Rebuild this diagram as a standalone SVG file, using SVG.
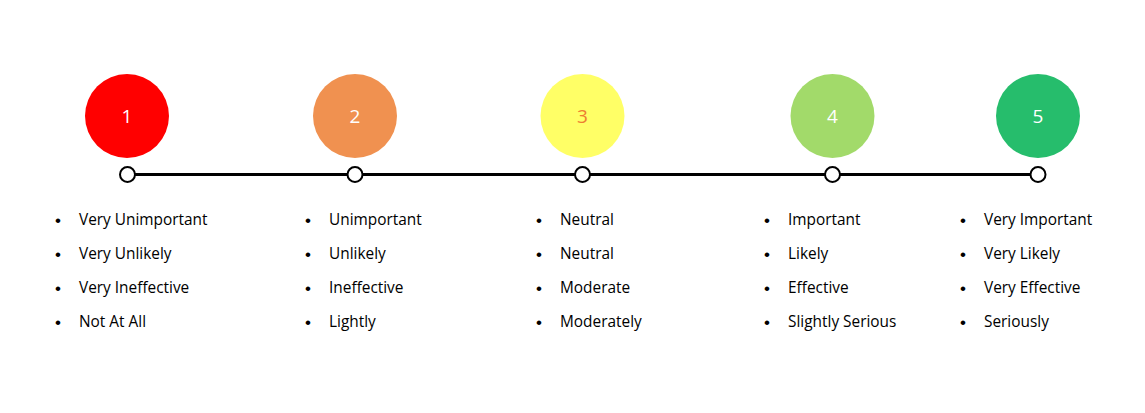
<svg xmlns="http://www.w3.org/2000/svg" width="1145" height="413" viewBox="0 0 1145 413">
<style>
.num{font-family:"Open Sans","Liberation Sans",sans-serif;font-size:19px;fill:#ffffff;text-anchor:middle}
.t{font-family:"Open Sans","Liberation Sans",sans-serif;font-size:15.4px;fill:#000000}
.b{font-family:"Liberation Sans",sans-serif;font-size:17px;fill:#000000}
.dot{fill:#ffffff;stroke:#000000;stroke-width:2}
</style>
<rect width="1145" height="413" fill="#ffffff"/>
<g id="connectors">
<line x1="127" y1="174.5" x2="1038" y2="174.5" stroke="#000000" stroke-width="3"/>
</g>
<g id="node1">
<circle cx="127" cy="116" r="42" fill="#FF0000"/>
<text class="num" x="127" y="123">1</text>
<circle class="dot" cx="127.5" cy="174.5" r="7.5"/>
<text class="b" x="55" y="226">•</text><text class="t" x="79" y="225">Very Unimportant</text>
<text class="b" x="55" y="260">•</text><text class="t" x="79" y="259">Very Unlikely</text>
<text class="b" x="55" y="294">•</text><text class="t" x="79" y="293">Very Ineffective</text>
<text class="b" x="55" y="328">•</text><text class="t" x="79" y="327">Not At All</text>
</g>
<g id="node2">
<circle cx="355" cy="116" r="42" fill="#F09150"/>
<text class="num" x="355" y="123">2</text>
<circle class="dot" cx="355" cy="174.5" r="7.5"/>
<text class="b" x="305" y="226">•</text><text class="t" x="329" y="225">Unimportant</text>
<text class="b" x="305" y="260">•</text><text class="t" x="329" y="259">Unlikely</text>
<text class="b" x="305" y="294">•</text><text class="t" x="329" y="293">Ineffective</text>
<text class="b" x="305" y="328">•</text><text class="t" x="329" y="327">Lightly</text>
</g>
<g id="node3">
<circle cx="582.5" cy="116" r="42" fill="#FFFF66"/>
<text class="num" x="582.5" y="123" style="fill:#ED7D31">3</text>
<circle class="dot" cx="582.5" cy="174.5" r="7.5"/>
<text class="b" x="536" y="226">•</text><text class="t" x="560" y="225">Neutral</text>
<text class="b" x="536" y="260">•</text><text class="t" x="560" y="259">Neutral</text>
<text class="b" x="536" y="294">•</text><text class="t" x="560" y="293">Moderate</text>
<text class="b" x="536" y="328">•</text><text class="t" x="560" y="327">Moderately</text>
</g>
<g id="node4">
<circle cx="832.5" cy="116" r="42" fill="#A2DA6A"/>
<text class="num" x="832.5" y="123">4</text>
<circle class="dot" cx="832.5" cy="174.5" r="7.5"/>
<text class="b" x="764" y="226">•</text><text class="t" x="788" y="225">Important</text>
<text class="b" x="764" y="260">•</text><text class="t" x="788" y="259">Likely</text>
<text class="b" x="764" y="294">•</text><text class="t" x="788" y="293">Effective</text>
<text class="b" x="764" y="328">•</text><text class="t" x="788" y="327">Slightly Serious</text>
</g>
<g id="node5">
<circle cx="1038" cy="116" r="42" fill="#26BD6C"/>
<text class="num" x="1038" y="123">5</text>
<circle class="dot" cx="1038" cy="174.5" r="7.5"/>
<text class="b" x="960" y="226">•</text><text class="t" x="984" y="225">Very Important</text>
<text class="b" x="960" y="260">•</text><text class="t" x="984" y="259">Very Likely</text>
<text class="b" x="960" y="294">•</text><text class="t" x="984" y="293">Very Effective</text>
<text class="b" x="960" y="328">•</text><text class="t" x="984" y="327">Seriously</text>
</g>
</svg>
